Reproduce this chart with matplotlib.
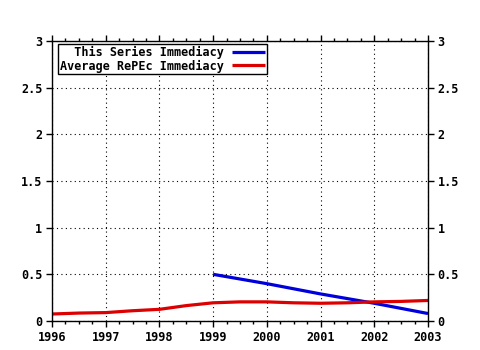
import numpy as np
import matplotlib
matplotlib.use("Agg")
import matplotlib.pyplot as plt
from matplotlib.ticker import MultipleLocator

# Series
series_years = [1999, 2000, 2001, 2002, 2003]
series_values = [0.50, 0.40, 0.29, 0.19, 0.08]

repec_years = [1996, 1996.5, 1997, 1997.5, 1998, 1998.5, 1999, 1999.5,
               2000, 2000.5, 2001, 2001.5, 2002, 2002.5, 2003]
repec_values = [0.075, 0.085, 0.09, 0.11, 0.125, 0.165, 0.195, 0.205,
                0.205, 0.195, 0.19, 0.195, 0.205, 0.21, 0.22]

series_label = "  This Series Immediacy"
repec_label = "Average RePEc Immediacy"

plt.rcParams["font.family"] = "DejaVu Sans Mono"
plt.rcParams["font.weight"] = "bold"
plt.rcParams["font.size"] = 8.5

fig = plt.figure(figsize=(4.8, 3.5), dpi=100)
ax = fig.add_axes([52 / 480, 29 / 350, 376 / 480, 280 / 350])

ax.plot(series_years, series_values, color="#0000dd", linewidth=2.3,
        label=series_label, solid_capstyle="butt")
ax.plot(repec_years, repec_values, color="#dd0000", linewidth=2.3,
        label=repec_label, solid_capstyle="butt")

ax.set_xlim(1996, 2003)
ax.set_ylim(0, 3)
ax.xaxis.set_major_locator(MultipleLocator(1))
ax.xaxis.set_minor_locator(MultipleLocator(0.25))
ax.yaxis.set_major_locator(MultipleLocator(0.5))
ax.yaxis.set_major_formatter(plt.FuncFormatter(lambda v, p: f"{v:g}"))

# gnuplot-style ticks on all four sides
ax.tick_params(axis="both", which="major", direction="out", length=4,
               width=1, top=True, right=True, labelright=True, pad=3)
ax.tick_params(axis="x", which="minor", direction="out", length=2,
               width=1, top=True)
for s in ax.spines.values():
    s.set_linewidth(1)

ax.grid(True, which="major", color="black", linestyle=(0, (1, 3)),
        linewidth=0.8)
ax.set_axisbelow(True)

leg = ax.legend(loc="upper left", bbox_to_anchor=(6 / 376, 1 - 3 / 280),
                borderaxespad=0, markerfirst=False, fancybox=False,
                framealpha=1, edgecolor="black", handlelength=2.8,
                handletextpad=0.7, labelspacing=0.05, borderpad=0.15)
leg.get_frame().set_linewidth(1)

fig.savefig("out.png", dpi=100)
